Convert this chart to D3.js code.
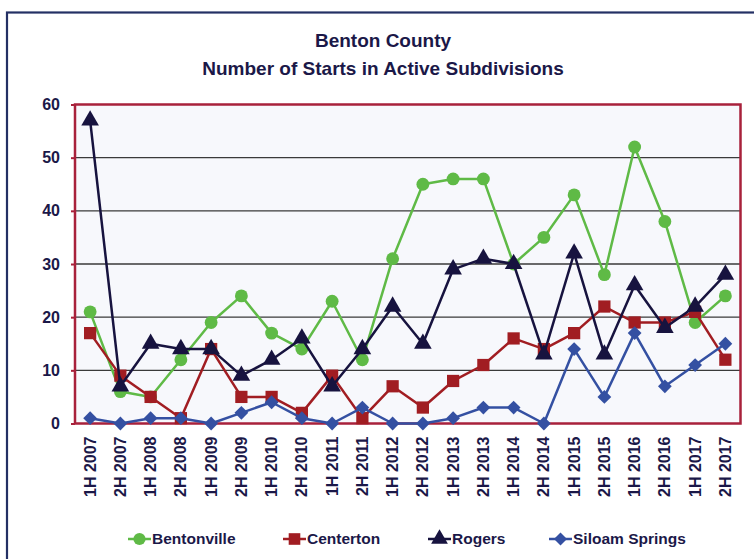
<!DOCTYPE html>
<html><head><meta charset="utf-8">
<script src="https://cdn.jsdelivr.net/npm/d3@7"></script>
<style>body{margin:0;background:#fff;} svg{display:block;}</style>
</head><body>
<svg id="c" width="754" height="559"></svg>
<script>
const categories = ["1H 2007","2H 2007","1H 2008","2H 2008","1H 2009","2H 2009","1H 2010","2H 2010","1H 2011","2H 2011","1H 2012","2H 2012","1H 2013","2H 2013","1H 2014","2H 2014","1H 2015","2H 2015","1H 2016","2H 2016","1H 2017","2H 2017"];
const bentonville = [21,6,5,12,19,24,17,14,23,12,31,45,46,46,30,35,43,28,52,38,19,24];
const centerton   = [17,9,5,1,14,5,5,2,9,1,7,3,8,11,16,14,17,22,19,19,21,12];
const rogers      = [57,7,15,14,14,9,12,16,7,14,22,15,29,31,30,13,32,13,26,18,22,28];
const siloam      = [1,0,1,1,0,2,4,1,0,3,0,0,1,3,3,0,14,5,17,7,11,15];
const yTicks = [0,10,20,30,40,50,60];
const seriesNames = ["Bentonville","Centerton","Rogers","Siloam Springs"];

const series = [
  {name: seriesNames[0], values: bentonville, color: "#5fba46", sym: d3.symbolCircle, size: 130, rot: 0},
  {name: seriesNames[1], values: centerton, color: "#a11d22", sym: d3.symbolSquare, size: 150, rot: 0},
  {name: seriesNames[2], values: rogers, color: "#17133f", sym: d3.symbolTriangle, size: 135, rot: 0},
  {name: seriesNames[3], values: siloam, color: "#3450a2", sym: d3.symbolSquare, size: 95, rot: 45}
];

const font = "'Liberation Sans', Arial, sans-serif";
const textColor = "#1b1848";
const svg = d3.select("#c");

// outer border
svg.append("rect").attr("x",7).attr("y",12.5).attr("width",800).attr("height",600)
  .attr("fill","none").attr("stroke","#243064").attr("stroke-width",2.2);

// title
svg.append("text").attr("x",383).attr("y",47).attr("text-anchor","middle")
  .attr("font-family",font).attr("font-weight","bold").attr("font-size",19)
  .attr("fill",textColor).text("Benton County");
svg.append("text").attr("x",383).attr("y",75).attr("text-anchor","middle")
  .attr("font-family",font).attr("font-weight","bold").attr("font-size",19)
  .attr("fill",textColor).text("Number of Starts in Active Subdivisions");

const pLeft = 75, pRight = 740.5, pTop = 104.5, pBottom = 423.5;
const x = d3.scaleBand().domain(categories).range([pLeft, pRight]).paddingInner(0).paddingOuter(0);
const y = d3.scaleLinear().domain([0,60]).range([pBottom, pTop]);
const cx = d => x(d) + x.bandwidth()/2;

svg.append("rect").attr("x",pLeft).attr("y",pTop).attr("width",pRight-pLeft).attr("height",pBottom-pTop)
  .attr("fill","#f7f8fc");

// gridlines
svg.append("g").selectAll("line").data(yTicks.filter(t => t>0 && t<60)).join("line")
  .attr("x1",pLeft).attr("x2",pRight).attr("y1",d=>y(d)).attr("y2",d=>y(d))
  .attr("stroke","#3a3a3a").attr("stroke-width",1.4);

// y axis
const yAxis = d3.axisLeft(y).tickValues(yTicks).tickSize(4).tickPadding(11).tickFormat(d3.format("d"));
const gy = svg.append("g").attr("transform",`translate(${pLeft},0)`).call(yAxis);
gy.select(".domain").remove();
gy.selectAll(".tick line").attr("stroke","#a8213b").attr("stroke-width",2);
gy.selectAll(".tick text").attr("font-family",font).attr("font-weight","bold")
  .attr("font-size",16).attr("fill",textColor);

// plot border
svg.append("rect").attr("x",pLeft).attr("y",pTop).attr("width",pRight-pLeft).attr("height",pBottom-pTop)
  .attr("fill","none").attr("stroke","#a8213b").attr("stroke-width",2.5);

// x axis labels
const xAxis = d3.axisBottom(x).tickSize(0).tickPadding(0);
const gx = svg.append("g").attr("transform",`translate(0,${pBottom})`).call(xAxis);
gx.select(".domain").remove();
gx.selectAll(".tick text")
  .attr("font-family",font).attr("font-weight","bold").attr("font-size",16).attr("fill",textColor)
  .attr("text-anchor","end").attr("dy","0.35em")
  .attr("transform","translate(0,13) rotate(-90)").attr("x",0).attr("y",0);

// series
series.forEach(s => {
  const g = svg.append("g");
  const line = d3.line().x((d,i)=>cx(categories[i])).y(d=>y(d));
  g.append("path").datum(s.values).attr("d",line).attr("fill","none")
    .attr("stroke",s.color).attr("stroke-width",2.5).attr("stroke-linejoin","round");
  g.selectAll("path.m").data(s.values).join("path").attr("class","m")
    .attr("d",d3.symbol().type(s.sym).size(s.size))
    .attr("transform",(d,i)=>`translate(${cx(categories[i])},${y(d)}) rotate(${s.rot})`)
    .attr("fill",s.color);
});

// legend
const legendX = [128, 283, 428, 549];
const ly = 539;
series.forEach((s,i) => {
  const g = svg.append("g").attr("transform",`translate(${legendX[i]},${ly})`);
  g.append("line").attr("x1",0).attr("x2",23).attr("y1",0).attr("y2",0)
    .attr("stroke",s.color).attr("stroke-width",2.5);
  g.append("path").attr("d",d3.symbol().type(s.sym).size(s.size*0.9))
    .attr("transform",`translate(11.5,0) rotate(${s.rot})`)
    .attr("fill",s.color);
  g.append("text").attr("x",24).attr("y",0).attr("dy","0.35em")
    .attr("font-family",font).attr("font-weight","bold").attr("font-size",15.5)
    .attr("fill",textColor).text(s.name);
});
</script>
</body></html>
